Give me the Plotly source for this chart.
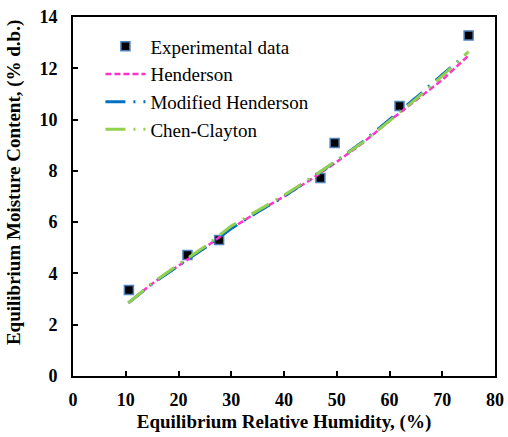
import plotly.graph_objects as go

# Experimental data
exp_rh = [10.6, 21.7, 27.7, 46.9, 49.6, 61.9, 75.0]
exp_emc = [3.35, 4.72, 5.30, 7.72, 9.09, 10.53, 13.28]

# Model curves
hen_rh = [10.5, 15, 20, 25, 30, 35, 40, 45, 50, 55, 60, 65, 70, 75]
hen_emc = [2.85, 3.6, 4.3, 5.0, 5.75, 6.4, 7.0, 7.65, 8.35, 9.1, 9.95, 10.75, 11.55, 12.5]

mhen_rh = [10.5, 15, 20, 25, 30, 35, 40, 45, 50, 55, 60, 65, 70, 73.7]
mhen_emc = [2.85, 3.6, 4.3, 5.0, 5.75, 6.4, 7.0, 7.7, 8.4, 9.15, 10.0, 10.85, 11.75, 12.4]

cc_rh = [10.5, 15, 20, 25, 30, 35, 40, 45, 50, 55, 60, 65, 70, 75]
cc_emc = [2.85, 3.62, 4.35, 5.05, 5.85, 6.45, 7.05, 7.7, 8.4, 9.12, 9.95, 10.8, 11.7, 12.65]

x_ticks = [0, 10, 20, 30, 40, 50, 60, 70, 80]
y_ticks = [0, 2, 4, 6, 8, 10, 12, 14]

font_family = "Liberation Serif"

fig = go.Figure()
fig.add_trace(go.Scatter(
    x=exp_rh, y=exp_emc, mode="markers", name="Experimental data",
    marker=dict(symbol="square", size=9, color="black",
                line=dict(color="#4F81BD", width=1.5))))
fig.add_trace(go.Scatter(
    x=hen_rh, y=hen_emc, mode="lines", name="Henderson",
    line=dict(color="#FF33CC", width=2.5, dash="6px,3px")))
fig.add_trace(go.Scatter(
    x=mhen_rh, y=mhen_emc, mode="lines", name="Modified Henderson",
    line=dict(color="#0070C0", width=3, dash="20px,8px,2px,8px")))
fig.add_trace(go.Scatter(
    x=cc_rh, y=cc_emc, mode="lines", name="Chen-Clayton",
    line=dict(color="#92D050", width=3, dash="20px,8px,2px,8px")))

fig.update_layout(
    width=508, height=437,
    margin=dict(l=73, r=13, t=17, b=61, autoexpand=False),
    paper_bgcolor="white", plot_bgcolor="white",
    font=dict(family=font_family, color="black", size=18),
    showlegend=True,
    legend=dict(x=0.065, y=0.971, xanchor="left", yanchor="top",
                bgcolor="rgba(0,0,0,0)", font=dict(size=19, family=font_family),
                tracegroupgap=0, itemwidth=40),
    annotations=[dict(
        text="<b>Equilibrium Moisture Content, (% d.b.)</b>",
        xref="paper", yref="paper", x=-0.14, y=0.54,
        xanchor="center", yanchor="middle", textangle=-90, showarrow=False,
        font=dict(family=font_family, size=19, color="black"))],
)
fig.update_xaxes(
    range=[0, 80], tickvals=x_ticks, ticktext=[str(v) for v in x_ticks],
    ticks="inside", ticklen=5, tickwidth=1.5, tickcolor="black",
    ticklabelstandoff=6, automargin=False, ticklabeloverflow="allow",
    showline=True, linecolor="black", linewidth=2, mirror=True,
    showgrid=False, zeroline=False,
    tickfont=dict(family=font_family, size=18, weight="bold"),
    title=dict(text="<b>Equilibrium Relative Humidity, (%)</b>",
               font=dict(family=font_family, size=19), standoff=6),
)
fig.update_yaxes(
    range=[0, 14], tickvals=y_ticks, ticktext=[str(v) for v in y_ticks],
    ticks="inside", ticklen=5, tickwidth=1.5, tickcolor="black",
    ticklabelstandoff=10, automargin=False, ticklabeloverflow="allow",
    showline=True, linecolor="black", linewidth=2, mirror=True,
    showgrid=False, zeroline=False,
    tickfont=dict(family=font_family, size=18, weight="bold"),
)

fig.write_html("out.html", config={"displayModeBar": False},
               post_script="document.body.style.margin='0';document.body.style.overflow='hidden';")
